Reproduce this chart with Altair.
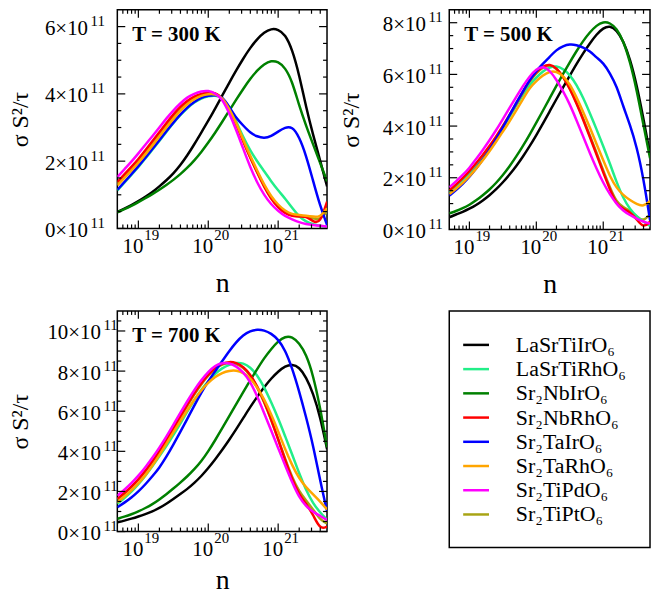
import altair as alt
import pandas as pd

FONT = "Liberation Serif"

# sample positions: log10(n)
log_n = [18.7, 18.8, 18.9, 19.0, 19.1, 19.2, 19.3, 19.4, 19.5, 19.6, 19.7, 19.8, 19.9, 20.0, 20.1,
         20.2, 20.3, 20.4, 20.5, 20.6, 20.7, 20.8, 20.9, 21.0, 21.1, 21.2, 21.3, 21.4, 21.5, 21.6, 21.7]

materials = ["LaSrTiIrO₆", "LaSrTiRhO₆", "Sr₂NbIrO₆", "Sr₂NbRhO₆",
             "Sr₂TaIrO₆", "Sr₂TaRhO₆", "Sr₂TiPdO₆", "Sr₂TiPtO₆"]
colors = ["#000000", "#22EE88", "#008000", "#FF0000", "#0000FF", "#FFA500", "#FF00FF", "#A8A414"]
draw_order = ["Sr₂TiPtO₆", "LaSrTiIrO₆", "LaSrTiRhO₆", "Sr₂NbIrO₆", "Sr₂NbRhO₆",
              "Sr₂TaIrO₆", "Sr₂TaRhO₆", "Sr₂TiPdO₆"]

# sigma S^2 / tau, units of 1e11
t300_LaSrTiIrO6 = [0.49, 0.59, 0.69, 0.81, 0.94, 1.08, 1.25, 1.43, 1.63, 1.88, 2.17, 2.5, 2.85, 3.2, 3.57, 3.95, 4.33, 4.7, 5.05, 5.37, 5.63, 5.83, 5.94, 5.92, 5.77, 5.33, 4.58, 3.6, 2.78, 2.02, 1.25]
t300_LaSrTiRhO6 = [1.13, 1.36, 1.59, 1.82, 2.08, 2.34, 2.6, 2.87, 3.13, 3.37, 3.58, 3.75, 3.87, 3.93, 3.96, 3.89, 3.63, 3.18, 2.71, 2.32, 1.99, 1.7, 1.4, 1.13, 0.89, 0.61, 0.35, 0.2, 0.12, 0.08, 0.05]
t300_Sr2NbIrO6 = [0.48, 0.57, 0.67, 0.78, 0.9, 1.02, 1.15, 1.29, 1.44, 1.61, 1.8, 2.02, 2.27, 2.55, 2.85, 3.17, 3.5, 3.83, 4.15, 4.45, 4.7, 4.89, 4.99, 4.96, 4.78, 4.38, 3.65, 3.05, 2.5, 1.95, 1.4]
t300_Sr2NbRhO6 = [1.38, 1.61, 1.83, 2.06, 2.32, 2.59, 2.86, 3.13, 3.39, 3.62, 3.8, 3.93, 4.0, 4.05, 4.03, 3.9, 3.53, 3.11, 2.58, 2.1, 1.66, 1.23, 0.87, 0.62, 0.44, 0.37, 0.35, 0.37, 0.2, 0.15, 0.8]
t300_Sr2TaIrO6 = [1.15, 1.38, 1.61, 1.85, 2.1, 2.36, 2.62, 2.89, 3.15, 3.39, 3.6, 3.77, 3.89, 3.95, 3.97, 3.92, 3.62, 3.28, 3.06, 2.84, 2.73, 2.68, 2.74, 2.88, 3.01, 3.03, 2.73, 2.17, 1.41, 0.67, 0.1]
t300_Sr2TaRhO6 = [1.28, 1.5, 1.72, 1.95, 2.2, 2.46, 2.73, 3.0, 3.26, 3.5, 3.7, 3.85, 3.95, 4.0, 4.0, 3.9, 3.56, 3.14, 2.64, 2.16, 1.72, 1.3, 0.95, 0.7, 0.52, 0.42, 0.4, 0.38, 0.35, 0.33, 0.6]
t300_Sr2TiPdO6 = [1.53, 1.76, 1.98, 2.23, 2.49, 2.74, 3.0, 3.27, 3.51, 3.72, 3.9, 4.01, 4.08, 4.1, 4.02, 3.85, 3.43, 2.93, 2.37, 1.82, 1.36, 0.99, 0.71, 0.52, 0.36, 0.27, 0.18, 0.13, 0.1, 0.08, 0.05]
t300_Sr2TiPtO6 = [1.33, 1.55, 1.78, 2.0, 2.26, 2.52, 2.8, 3.07, 3.33, 3.56, 3.75, 3.89, 3.98, 4.02, 4.01, 3.9, 3.54, 3.12, 2.6, 2.12, 1.68, 1.26, 0.9, 0.65, 0.47, 0.39, 0.36, 0.35, 0.3, 0.25, 0.5]

t500_LaSrTiIrO6 = [0.47, 0.58, 0.68, 0.8, 0.94, 1.12, 1.32, 1.55, 1.82, 2.12, 2.45, 2.82, 3.22, 3.65, 4.1, 4.57, 5.04, 5.5, 5.95, 6.4, 6.82, 7.2, 7.55, 7.8, 7.88, 7.72, 7.3, 6.6, 5.6, 4.3, 2.9]
t500_LaSrTiRhO6 = [1.44, 1.66, 1.91, 2.18, 2.48, 2.8, 3.15, 3.52, 3.93, 4.37, 4.8, 5.22, 5.6, 5.88, 6.13, 6.28, 6.33, 6.22, 5.99, 5.6, 5.1, 4.5, 3.88, 3.22, 2.55, 1.82, 1.2, 0.78, 0.5, 0.3, 0.14]
t500_Sr2NbIrO6 = [0.62, 0.71, 0.82, 0.95, 1.12, 1.32, 1.54, 1.8, 2.1, 2.44, 2.82, 3.23, 3.67, 4.13, 4.6, 5.08, 5.56, 6.02, 6.47, 6.9, 7.3, 7.63, 7.9, 8.04, 8.0, 7.78, 7.3, 6.5, 5.4, 4.05, 2.75]
t500_Sr2NbRhO6 = [1.5, 1.73, 1.98, 2.25, 2.56, 2.88, 3.22, 3.6, 4.0, 4.43, 4.87, 5.32, 5.78, 6.1, 6.32, 6.4, 6.25, 5.92, 5.45, 4.88, 4.25, 3.58, 2.9, 2.2, 1.55, 0.95, 0.78, 0.68, 0.4, 0.05, 0.3]
t500_Sr2TaIrO6 = [1.31, 1.52, 1.76, 2.03, 2.35, 2.7, 3.08, 3.5, 3.95, 4.42, 4.9, 5.35, 5.78, 6.14, 6.42, 6.68, 6.95, 7.1, 7.17, 7.14, 7.05, 6.9, 6.65, 6.45, 6.05, 5.55, 4.75, 4.05, 3.2, 2.0, 0.35]
t500_Sr2TaRhO6 = [1.37, 1.57, 1.8, 2.05, 2.35, 2.67, 3.02, 3.4, 3.78, 4.18, 4.6, 5.04, 5.48, 5.75, 5.97, 6.12, 6.12, 5.95, 5.63, 5.12, 4.55, 3.95, 3.3, 2.68, 2.05, 1.6, 1.32, 1.13, 0.98, 0.88, 1.1]
t500_Sr2TiPdO6 = [1.63, 1.86, 2.1, 2.38, 2.72, 3.07, 3.45, 3.84, 4.27, 4.7, 5.13, 5.55, 5.93, 6.2, 6.33, 6.15, 5.8, 5.35, 4.85, 4.23, 3.6, 2.95, 2.35, 1.8, 1.35, 0.98, 0.72, 0.55, 0.42, 0.3, 0.22]
t500_Sr2TiPtO6 = [1.47, 1.7, 1.95, 2.22, 2.52, 2.85, 3.19, 3.56, 3.96, 4.38, 4.82, 5.27, 5.72, 6.05, 6.28, 6.37, 6.24, 5.92, 5.47, 4.92, 4.3, 3.64, 2.97, 2.28, 1.62, 1.05, 0.85, 0.72, 0.5, 0.3, 0.6]

t700_LaSrTiIrO6 = [0.46, 0.54, 0.64, 0.75, 0.87, 1.0, 1.17, 1.38, 1.62, 1.87, 2.12, 2.42, 2.76, 3.16, 3.6, 4.07, 4.57, 5.1, 5.65, 6.21, 6.72, 7.2, 7.63, 7.98, 8.25, 8.34, 8.2, 7.7, 6.9, 5.75, 4.1]
t700_LaSrTiRhO6 = [1.38, 1.67, 1.98, 2.35, 2.78, 3.25, 3.75, 4.25, 4.8, 5.38, 5.98, 6.55, 7.08, 7.5, 7.88, 8.15, 8.32, 8.42, 8.4, 8.2, 7.8, 7.2, 6.45, 5.65, 4.75, 3.85, 2.9, 2.05, 1.4, 0.95, 0.58]
t700_Sr2NbIrO6 = [0.63, 0.74, 0.86, 1.0, 1.17, 1.36, 1.6, 1.86, 2.14, 2.44, 2.75, 3.1, 3.5, 4.0, 4.56, 5.15, 5.75, 6.35, 6.95, 7.54, 8.1, 8.65, 9.1, 9.5, 9.73, 9.72, 9.4, 8.84, 7.8, 6.2, 4.2]
t700_Sr2NbRhO6 = [1.63, 1.92, 2.23, 2.6, 3.03, 3.5, 4.0, 4.55, 5.14, 5.74, 6.33, 6.9, 7.4, 7.83, 8.18, 8.38, 8.47, 8.42, 8.22, 7.85, 7.25, 6.5, 5.6, 4.6, 3.55, 2.6, 1.85, 1.38, 0.85, 0.1, 0.25]
t700_Sr2TaIrO6 = [1.21, 1.44, 1.69, 1.99, 2.35, 2.75, 3.18, 3.72, 4.33, 4.97, 5.62, 6.28, 6.92, 7.5, 8.0, 8.5, 9.0, 9.45, 9.8, 10.0, 10.08, 10.04, 9.88, 9.58, 9.05, 8.15, 7.0, 5.7, 4.3, 2.55, 1.0]
t700_Sr2TaRhO6 = [1.46, 1.74, 2.05, 2.4, 2.8, 3.28, 3.8, 4.37, 4.95, 5.5, 6.05, 6.58, 7.05, 7.42, 7.72, 7.92, 8.02, 8.04, 7.92, 7.65, 7.2, 6.6, 5.85, 5.0, 4.1, 3.3, 2.65, 2.2, 1.85, 1.5, 1.1]
t700_Sr2TiPdO6 = [1.79, 2.08, 2.4, 2.78, 3.2, 3.67, 4.18, 4.73, 5.32, 5.92, 6.5, 7.06, 7.55, 7.97, 8.28, 8.42, 8.4, 8.25, 7.95, 7.48, 6.75, 5.9, 5.05, 4.15, 3.3, 2.45, 1.7, 1.25, 0.98, 0.78, 0.57]
t700_Sr2TiPtO6 = [1.6, 1.89, 2.2, 2.57, 3.0, 3.46, 3.96, 4.5, 5.08, 5.68, 6.27, 6.84, 7.35, 7.78, 8.13, 8.34, 8.43, 8.38, 8.18, 7.8, 7.2, 6.45, 5.58, 4.62, 3.62, 2.7, 2.0, 1.55, 1.1, 0.6, 0.4]

panel300 = dict(zip(materials, [t300_LaSrTiIrO6, t300_LaSrTiRhO6, t300_Sr2NbIrO6, t300_Sr2NbRhO6,
                                t300_Sr2TaIrO6, t300_Sr2TaRhO6, t300_Sr2TiPdO6, t300_Sr2TiPtO6]))
panel500 = dict(zip(materials, [t500_LaSrTiIrO6, t500_LaSrTiRhO6, t500_Sr2NbIrO6, t500_Sr2NbRhO6,
                                t500_Sr2TaIrO6, t500_Sr2TaRhO6, t500_Sr2TiPdO6, t500_Sr2TiPtO6]))
panel700 = dict(zip(materials, [t700_LaSrTiIrO6, t700_LaSrTiRhO6, t700_Sr2NbIrO6, t700_Sr2NbRhO6,
                                t700_Sr2TaIrO6, t700_Sr2TaRhO6, t700_Sr2TiPdO6, t700_Sr2TiPtO6]))

X_MAJOR = [1e19, 1e20, 1e21]
X_MINOR = [k * 10.0 ** e for e in (18, 19, 20, 21) for k in range(2, 10) if 5.5e18 < k * 10.0 ** e < 4.9e21]
X_EXP = "'' + round(log(datum.value)/LN10)"

color = alt.Color("m:N", scale=alt.Scale(domain=materials, range=colors), legend=None)


def panel(values, ymax, label, W, H, ylab_pad, yext, xtitle_pad):
    rows = []
    for m in draw_order:
        for L, v in zip(log_n, values[m]):
            rows.append({"n": 10.0 ** L, "v": v, "m": m})
    df = pd.DataFrame(rows)
    xs = alt.Scale(type="log", domain=[5e18, 5e21], nice=False)
    ys = alt.Scale(domain=[0, ymax], nice=False)
    y_major = [v for v in range(0, int(ymax) + 1, 2)]
    y_minor = [k * 0.5 for k in range(1, int(ymax * 2)) if (k * 0.5) % 2 != 0 and k * 0.5 < ymax]
    base = alt.Chart(df)

    lines = base.mark_line(strokeWidth=2.5, clip=True, interpolate="basis").encode(
        x=alt.X("n:Q", scale=xs, title="n",
                axis=alt.Axis(orient="bottom", values=X_MAJOR, ticks=False, tickSize=0, domain=False,
                              grid=False, labelExpr="'10'", labelOffset=-6, labelPadding=7,
                              minExtent=28, maxExtent=28, titlePadding=xtitle_pad, titleFontSize=28)),
        y=alt.Y("v:Q", scale=ys, title="σ S²/τ",
                axis=alt.Axis(orient="left", values=y_major, ticks=False, tickSize=0, domain=False,
                              grid=False, labelExpr="datum.value + '×10'", labelPadding=ylab_pad,
                              labelOffset=2, minExtent=yext, maxExtent=yext, titlePadding=8,
                              titleFontSize=24)),
        color=color,
    )

    # superscripts of the tick labels (10^k and x10^11)
    sup = base.mark_line(opacity=0).encode(
        x=alt.X("n:Q", scale=xs, title=None,
                axis=alt.Axis(orient="bottom", values=X_MAJOR, ticks=False, tickSize=0, domain=False,
                              grid=False, labelExpr=X_EXP, labelFontSize=15, labelOffset=13,
                              labelPadding=-1, minExtent=0, maxExtent=0)),
        y=alt.Y("v:Q", scale=ys, title=None,
                axis=alt.Axis(orient="left", values=y_major, ticks=False, tickSize=0, domain=False,
                              grid=False, labelExpr="'11'", labelFontSize=15, labelOffset=-6,
                              labelPadding=max(ylab_pad - 17, 0), minExtent=0, maxExtent=0)),
        detail="m:N",
    )

    # inward tick marks on all four sides
    def xticks(vals, y0, y1):
        return alt.Chart(pd.DataFrame({"xv": vals})).mark_rule(color="black", strokeWidth=1.2).encode(
            x=alt.X("xv:Q", scale=xs, axis=None), y=alt.value(y0), y2=alt.value(y1))

    def yticks(vals, x0, x1):
        return alt.Chart(pd.DataFrame({"yv": vals})).mark_rule(color="black", strokeWidth=1.2).encode(
            y=alt.Y("yv:Q", scale=ys, axis=None), x=alt.value(x0), x2=alt.value(x1))

    ticks = [
        xticks(X_MAJOR, H, H - 8), xticks(X_MINOR, H, H - 4),
        xticks(X_MAJOR, 0, 8), xticks(X_MINOR, 0, 4),
        yticks(y_major, 0, 8), yticks(y_minor, 0, 4),
        yticks(y_major, W, W - 8), yticks(y_minor, W, W - 4),
    ]

    text = alt.Chart(pd.DataFrame({"t": [label]})).mark_text(
        align="left", baseline="alphabetic", font=FONT, fontSize=21, fontWeight="bold", color="black"
    ).encode(x=alt.value(15), y=alt.value(31), text="t:N")

    return alt.layer(lines, sup, *ticks, text).resolve_axis(
        x="independent", y="independent"
    ).properties(width=W, height=H)


p1 = panel(panel300, 6.5, "T = 300 K", 211, 220, 30, 77, 13)
p2 = panel(panel500, 8.5, "T = 500 K", 202, 221, 24, 78, 13)
p3 = panel(panel700, 11, "T = 700 K", 211, 222, 17, 77, 7)

leg_df = pd.DataFrame({"m": materials})
leg_y = alt.Y("m:N", sort=materials, axis=None,
              scale=alt.Scale(type="point", domain=materials, range=[22, 217]))
leg_lines = alt.Chart(leg_df).mark_rule(strokeWidth=2.5).encode(
    x=alt.value(14), x2=alt.value(40), y=leg_y, color=color)
leg_text = alt.Chart(leg_df).mark_text(
    align="left", baseline="middle", font=FONT, fontSize=22, color="black"
).encode(x=alt.value(67), y=leg_y, text="m:N")
legend = alt.layer(leg_lines, leg_text).properties(width=202, height=238)

row1 = alt.hconcat(p1, p2, spacing=10)
row2 = alt.hconcat(p3, legend, spacing=120)

chart = alt.vconcat(row1, row2, spacing=10).properties(
    padding={"left": 0, "top": -2, "right": 0, "bottom": -8}
).configure_view(
    stroke="black", strokeWidth=1.5
).configure_axis(
    labelFont=FONT, labelFontSize=21, titleFont=FONT, titleFontWeight="normal",
    labelColor="black", titleColor="black"
)

chart.save("out.html", embed_options={"renderer": "svg", "actions": False})
